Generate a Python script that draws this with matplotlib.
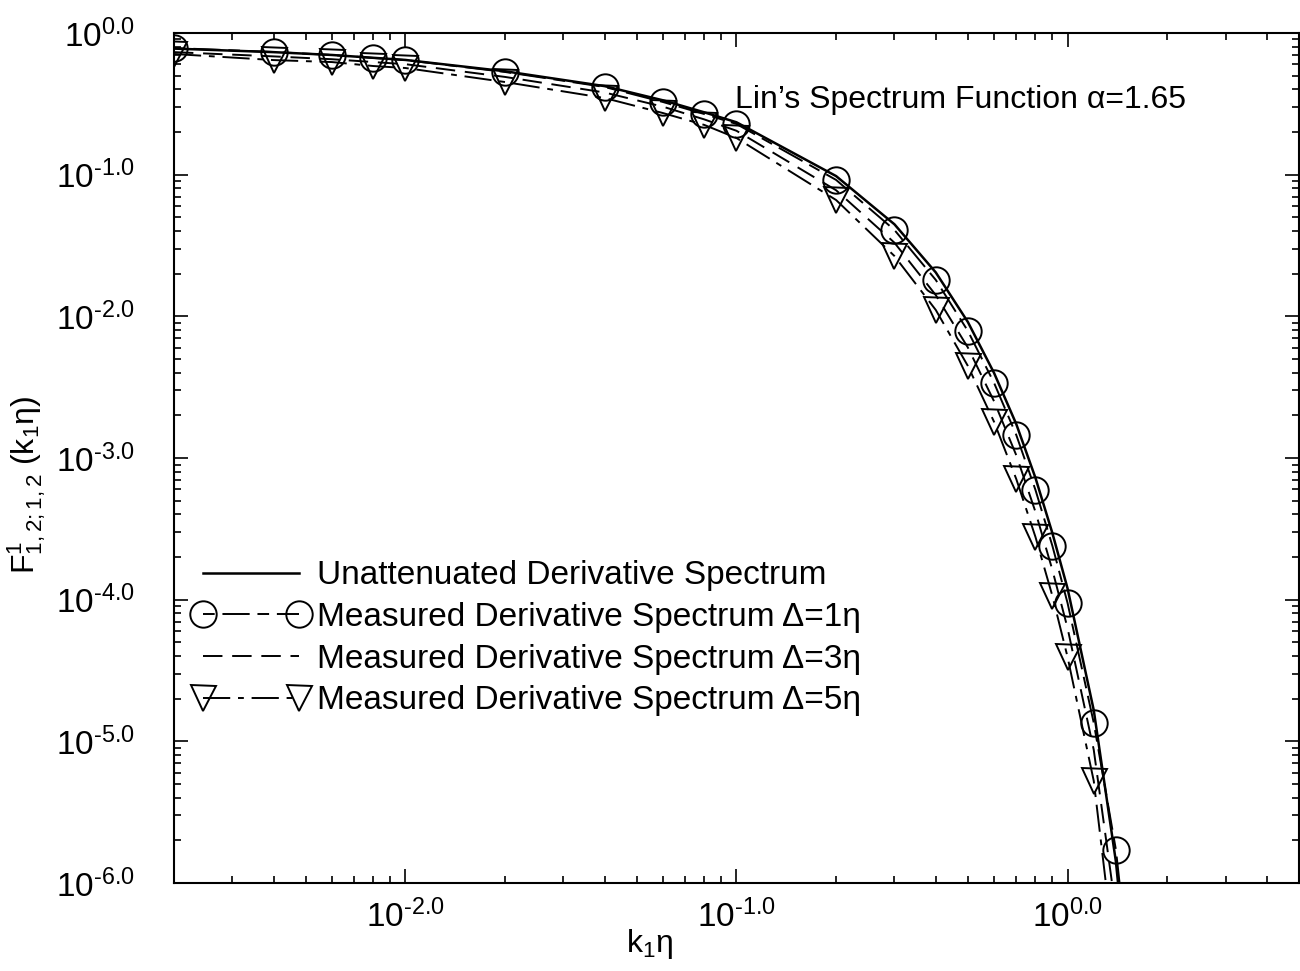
import matplotlib
matplotlib.use("Agg")
import matplotlib.pyplot as plt
from matplotlib.ticker import LogLocator, FixedLocator, FixedFormatter, NullFormatter
import numpy as np

plt.rcParams['font.family'] = ['Liberation Sans', 'DejaVu Sans']
plt.rcParams['mathtext.fontset'] = 'custom'
plt.rcParams['mathtext.rm'] = 'Liberation Sans'
plt.rcParams['mathtext.it'] = 'Liberation Sans:italic'

# ---- data (log10 of spectrum values) ----
k_eta = [0.002, 0.004, 0.006, 0.008, 0.01, 0.02, 0.04, 0.06, 0.08, 0.1,
         0.2, 0.3, 0.4, 0.5, 0.6, 0.7, 0.8, 0.9, 1.0, 1.2, 1.4, 1.6]

log_unatt = [-0.11, -0.135, -0.155, -0.175, -0.19, -0.27, -0.375, -0.475, -0.56, -0.63,
             -1.01, -1.35, -1.69, -2.04, -2.40, -2.76, -3.14, -3.53, -3.92, -4.78, -5.85, -7.2]

log_d1 = [-0.106, -0.134, -0.155, -0.176, -0.191, -0.275, -0.381, -0.487, -0.572, -0.642,
          -1.037, -1.390, -1.743, -2.103, -2.470, -2.837, -3.225, -3.620, -4.023, -4.869, -5.766, -7.0]

log_d3 = [-0.135, -0.165, -0.185, -0.205, -0.22, -0.31, -0.42, -0.52, -0.61, -0.69,
          -1.11, -1.48, -1.85, -2.22, -2.60, -2.98, -3.38, -3.79, -4.20, -5.06, -6.2, -7.4]

log_d5 = [-0.148, -0.191, -0.205, -0.233, -0.247, -0.346, -0.459, -0.565, -0.649, -0.741,
          -1.179, -1.574, -1.955, -2.350, -2.745, -3.148, -3.557, -3.973, -4.404, -5.279, -6.6, -7.8]

labels = ["Unattenuated Derivative Spectrum",
          "Measured Derivative Spectrum \u0394=1\u03b7",
          "Measured Derivative Spectrum \u0394=3\u03b7",
          "Measured Derivative Spectrum \u0394=5\u03b7"]

HY = '\u2010'
xticks_major = [0.01, 0.1, 1.0]
xtick_exps = [HY + '2.0', HY + '1.0', '0.0']
yticks_major = [1.0, 0.1, 0.01, 1e-3, 1e-4, 1e-5, 1e-6]
ytick_exps = ['0.0', HY + '1.0', HY + '2.0', HY + '3.0', HY + '4.0', HY + '5.0', HY + '6.0']


def pow_label(e):
    return r'$\mathregular{10^{' + e + '}}$'


k = np.array(k_eta)
fig = plt.figure(figsize=(13.0, 9.71), dpi=100)
ax = fig.add_axes([0.1338, 0.0906, 0.8654, 0.8754])

ax.plot(k, 10 ** np.array(log_unatt), color='black', lw=1.8, ls='-', label=labels[0])
ax.plot(k, 10 ** np.array(log_d1), color='black', lw=1.4, ls=(0, (6, 4, 14, 4)),
        marker='o', ms=19, mfc='none', mec='black', mew=1.4, label=labels[1])
ax.plot(k, 10 ** np.array(log_d3), color='black', lw=1.4, ls=(0, (10, 5)), label=labels[2])
ax.plot(k, 10 ** np.array(log_d5), color='black', lw=1.4, ls=(0, (14, 4, 3, 4)),
        marker='v', ms=18, mfc='none', mec='black', mew=1.4, label=labels[3])

ax.set_xscale('log')
ax.set_yscale('log')
ax.set_xlim(0.002, 5.0)
ax.set_ylim(1e-6, 1.0)

ax.xaxis.set_major_locator(FixedLocator(xticks_major))
ax.xaxis.set_major_formatter(FixedFormatter([pow_label(e) for e in xtick_exps]))
ax.yaxis.set_major_locator(FixedLocator(yticks_major))
ax.yaxis.set_major_formatter(FixedFormatter([pow_label(e) for e in ytick_exps]))
ax.xaxis.set_minor_locator(LogLocator(base=10, subs=np.arange(2, 10), numticks=20))
ax.yaxis.set_minor_locator(LogLocator(base=10, subs=np.arange(2, 10), numticks=20))
ax.xaxis.set_minor_formatter(NullFormatter())
ax.yaxis.set_minor_formatter(NullFormatter())

ax.tick_params(which='both', direction='in', top=True, right=True, width=1.2)
ax.tick_params(which='major', length=10, labelsize=24)
ax.tick_params(axis='y', which='major', pad=28)
ax.tick_params(axis='x', which='major', pad=12)
ax.tick_params(which='minor', length=5)
for s in ax.spines.values():
    s.set_linewidth(1.5)

ax.set_xlabel(r'$\mathregular{k_1' + '\u03b7' + '}$', fontsize=23)
ax.xaxis.set_label_coords(0.423, -0.052)
ax.set_ylabel(r'$\mathregular{F^{1}_{1,2;1,2}\ (k_1' + '\u03b7' + ')}$', fontsize=23)
ax.yaxis.set_label_coords(-0.112, 0.468)

ax.text(0.4987, 0.921, "Lin\u2019s Spectrum Function \u03b1=1.65", transform=ax.transAxes,
        fontsize=23, ha='left', va='center')

leg = ax.legend(loc='upper left', bbox_to_anchor=(-0.004, 0.407), frameon=False, fontsize=24,
                handlelength=3.5, handletextpad=0.22, labelspacing=0.32, borderaxespad=0.3,
                markerscale=1.0, numpoints=2)

fig.savefig('out.png', dpi=100)
